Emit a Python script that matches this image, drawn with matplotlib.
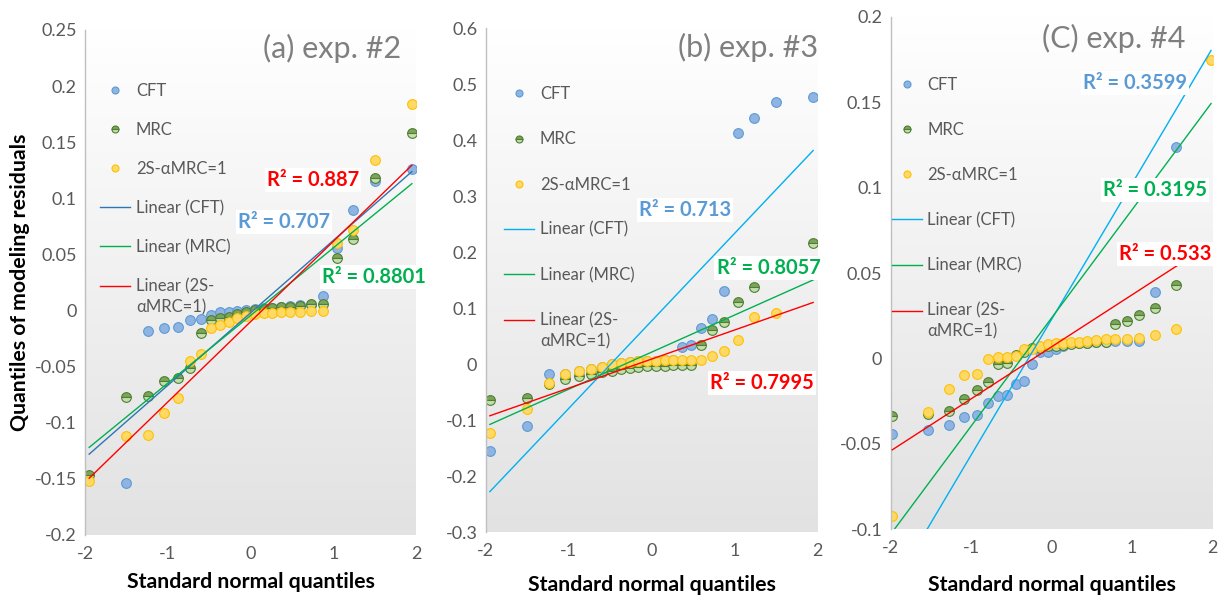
import numpy as np
import matplotlib
matplotlib.use("Agg")
from matplotlib import pyplot as plt
from matplotlib.colors import LinearSegmentedColormap
from matplotlib.ticker import FuncFormatter, MultipleLocator

plt.rcParams['font.family'] = ['Lato', 'DejaVu Sans']

# ==============================
# data
# ==============================
# standard normal quantiles, 24 points (exp. #2 and #3)
x_24 = [-1.95, -1.50, -1.24, -1.04, -0.88, -0.73, -0.60, -0.48, -0.37, -0.26, -0.16, -0.05,
        0.05, 0.16, 0.26, 0.37, 0.48, 0.60, 0.73, 0.88, 1.04, 1.24, 1.50, 1.95]
# 26 points (exp. #4)
x_26 = [-1.98, -1.54, -1.28, -1.09, -0.93, -0.79, -0.67, -0.55, -0.44, -0.34, -0.24, -0.14, -0.05,
        0.05, 0.14, 0.24, 0.34, 0.44, 0.55, 0.67, 0.79, 0.93, 1.09, 1.28, 1.54, 1.98]

# (a) exp. #2
cft_a = [-0.25, -0.154, -0.018, -0.0155, -0.015, -0.008, -0.0078, -0.0036, -0.0015, -0.001, 0.0, 0.0005,
         0.0015, 0.002, 0.0025, 0.003, 0.004, 0.005, 0.005, 0.0125, 0.056, 0.090, 0.1155, 0.1265]
mrc_a = [-0.147, -0.0774, -0.0762, -0.0625, -0.060, -0.0515, -0.020, -0.0083, -0.007, -0.0054, -0.003, -0.001,
         0.0003, 0.001, 0.002, 0.003, 0.0035, 0.004, 0.0055, 0.006, 0.047, 0.064, 0.118, 0.158]
s2_a = [-0.152, -0.112, -0.111, -0.091, -0.078, -0.0446, -0.039, -0.0155, -0.0128, -0.0098, -0.0068, -0.0045,
        -0.003, -0.0024, -0.0018, -0.0015, -0.0012, -0.001, -0.0005, 0.0, 0.060, 0.0714, 0.134, 0.184]

# (b) exp. #3
cft_b = [-0.155, -0.110, -0.018, -0.0167, -0.012, -0.008, -0.004, 0.0, 0.002, 0.004, 0.005, 0.006,
         0.0065, 0.007, 0.007, 0.030, 0.034, 0.065, 0.080, 0.130, 0.413, 0.439, 0.469, 0.478]
mrc_b = [-0.063, -0.061, -0.036, -0.027, -0.021, -0.017, -0.014, -0.012, -0.009, -0.007, -0.005, -0.0035,
         -0.003, -0.003, -0.002, -0.002, -0.001, 0.034, 0.061, 0.076, 0.111, 0.138, 0.168, 0.217]
s2_b = [-0.123, -0.080, -0.033, -0.018, -0.012, -0.008, -0.004, 0.0, 0.002, 0.004, 0.005, 0.006,
        0.0065, 0.007, 0.007, 0.008, 0.008, 0.008, 0.014, 0.023, 0.044, 0.085, 0.092, 0.180]

# (C) exp. #4
cft_c = [-0.044, -0.042, -0.039, -0.034, -0.033, -0.026, -0.022, -0.0216, -0.015, -0.013, -0.0033, 0.0037, 0.0037,
         0.0055, 0.0074, 0.0088, 0.0088, 0.0088, 0.0095, 0.0095, 0.010, 0.0103, 0.0103, 0.039, 0.124, 0.63]
mrc_c = [-0.0337, -0.0327, -0.031, -0.0238, -0.0183, -0.0135, -0.003, -0.0025, 0.002, 0.004, 0.006, 0.006, 0.007,
         0.0075, 0.008, 0.0085, 0.009, 0.009, 0.0095, 0.0095, 0.0199, 0.022, 0.0255, 0.0298, 0.0429, 0.55]
s2_c = [-0.0922, -0.0316, -0.0181, -0.0097, -0.0094, -0.0002, 0.0006, 0.0006, 0.0014, 0.0053, 0.0058, 0.0074, 0.0082,
        0.0088, 0.009, 0.0096, 0.0097, 0.0103, 0.0105, 0.0111, 0.0111, 0.0115, 0.0119, 0.0136, 0.0175, 0.1747]

titles = ["(a) exp. #2", "(b) exp. #3", "(C) exp. #4"]
r2_labels = [["R² = 0.707", "R² = 0.8801", "R² = 0.887"],
             ["R² = 0.713", "R² = 0.8057", "R² = 0.7995"],
             ["R² = 0.3599", "R² = 0.3195", "R² = 0.533"]]
series_names = ["CFT", "MRC", "2S-αMRC=1"]
trend_names = ["Linear (CFT)", "Linear (MRC)", "Linear (2S-\nαMRC=1)"]

# ==============================
# styles / layout
# ==============================
GRAY_TXT = "#595959"
marker_styles = [dict(mfc="#8FB4E2", mec="#5B9BD5"),
                 dict(mfc="#C2DEAD", mfcalt="#7BA55B", mec="#507E32"),
                 dict(mfc="#FFD966", mec="#FFC000")]
r2_colors = ["#5B9BD5", "#00B050", "#FF0000"]

panels = [
    dict(x=x_24, ys=[cft_a, mrc_a, s2_a], ylim=(-0.2, 0.25), step=0.05,
         rect=[0.0692, 0.1039, 0.2693, 0.8459], cft_line="#2E75B6",
         title_pos=(0.746, 0.964), leg_anchor=(0.045, 0.895), leg_space=1.38,
         r2_pos=[(0.40, 0.0786), (1.49, 0.0295), (0.76, 0.116)], xlab_y=-0.0925),
    dict(x=x_24, ys=[cft_b, mrc_b, s2_b], ylim=(-0.3, 0.6), step=0.1,
         rect=[0.3952, 0.1084, 0.2698, 0.8442], cft_line="#00B0F0",
         title_pos=(0.791, 0.963), leg_anchor=(0.055, 0.885), leg_space=1.75,
         r2_pos=[(0.40, 0.276), (1.41, 0.172), (1.33, -0.033)], xlab_y=-0.1046),
    dict(x=x_26, ys=[cft_c, mrc_c, s2_c], ylim=(-0.1, 0.2), step=0.05,
         rect=[0.7247, 0.1134, 0.2620, 0.8586], cft_line="#00B0F0",
         title_pos=(0.693, 0.958), leg_anchor=(0.003, 0.883), leg_space=1.75,
         r2_pos=[(1.035, 0.161), (1.283, 0.0984), (1.407, 0.061)], xlab_y=-0.1087),
]

bg_cmap = LinearSegmentedColormap.from_list("bg", ["#FFFFFF", "#E2E2E2"])
grad = np.linspace(0, 1, 256).reshape(-1, 1)

fig = plt.figure(figsize=(12.29, 5.97), dpi=100)

for k, p in enumerate(panels):
    ax = fig.add_axes(p["rect"])
    y0, y1 = p["ylim"]
    ax.imshow(grad, extent=[-2, 2, y0, y1], origin="upper", cmap=bg_cmap,
              aspect="auto", zorder=0)

    x = np.array(p["x"])
    pts = []
    for i, y in enumerate(p["ys"]):
        st = marker_styles[i]
        kw = dict(marker="o", ls="none", ms=7.0, mew=0.8, mec=st["mec"], mfc=st["mfc"], zorder=2 + i * 0.1)
        if "mfcalt" in st:
            kw.update(fillstyle="top", mfc=st["mfcalt"], markerfacecoloralt=st["mfc"])
        h, = ax.plot(x, y, label=series_names[i], **kw)
        pts.append(h)

    lines = []
    line_cols = [p["cft_line"], "#00B050", "#FF0000"]
    for i, y in enumerate(p["ys"]):
        slope, icpt = np.polyfit(x, np.array(y), 1)
        xx = np.array([x.min(), x.max()])
        h, = ax.plot(xx, slope * xx + icpt, color=line_cols[i], lw=1.0, zorder=3, label=trend_names[i])
        lines.append(h)

    for i, (lx, ly) in enumerate(p["r2_pos"]):
        ax.text(lx, ly, r2_labels[k][i], color=r2_colors[i], fontsize=14.5, fontweight="bold",
                ha="center", va="center", zorder=5,
                bbox=dict(facecolor="white", edgecolor="none", pad=1.5))

    ax.text(p["title_pos"][0], p["title_pos"][1], titles[k], transform=ax.transAxes,
            fontsize=22, color="#7F7F7F", ha="center", va="center", zorder=6)

    leg = ax.legend(handles=pts + lines, loc="upper left", bbox_to_anchor=p["leg_anchor"],
                    frameon=False, fontsize=12, labelspacing=p["leg_space"], handlelength=1.8,
                    handletextpad=0.35, borderpad=0, borderaxespad=0, markerscale=0.72)
    for t in leg.get_texts():
        t.set_color(GRAY_TXT)
    leg.get_texts()[-1].set_linespacing(1.35)
    # line handle of the two-line entry sits at the first text line
    hl = leg.legend_handles[-1]
    hl.set_ydata(np.asarray(hl.get_ydata()) + 8)
    leg.set_zorder(6)

    ax.set_xlim(-2, 2)
    ax.set_ylim(y0, y1)
    ax.xaxis.set_major_locator(MultipleLocator(1))
    ax.yaxis.set_major_locator(MultipleLocator(p["step"]))
    ax.xaxis.set_major_formatter(FuncFormatter(lambda v, pos: f"{v:g}"))
    ax.yaxis.set_major_formatter(FuncFormatter(lambda v, pos: f"{round(v, 3):g}"))
    ax.tick_params(axis="y", length=0, labelsize=13, labelcolor=GRAY_TXT, pad=6)
    ax.tick_params(axis="x", length=0, labelsize=13, labelcolor=GRAY_TXT, pad=8)
    for s in ["top", "right", "bottom"]:
        ax.spines[s].set_visible(False)
    ax.spines["left"].set_color("#BFBFBF")
    ax.spines["left"].set_linewidth(1.0)

    ax.text(0.5, p["xlab_y"], "Standard normal quantiles", transform=ax.transAxes,
            ha="center", va="center", fontsize=15.3, fontweight="bold", color="black")

fig.text(20 / 1229, 1 - 282 / 597, "Quantiles of modeling residuals", rotation=90,
         ha="center", va="center", fontsize=15.3, fontweight="bold", color="black")

plt.savefig("out.png", dpi=100)
